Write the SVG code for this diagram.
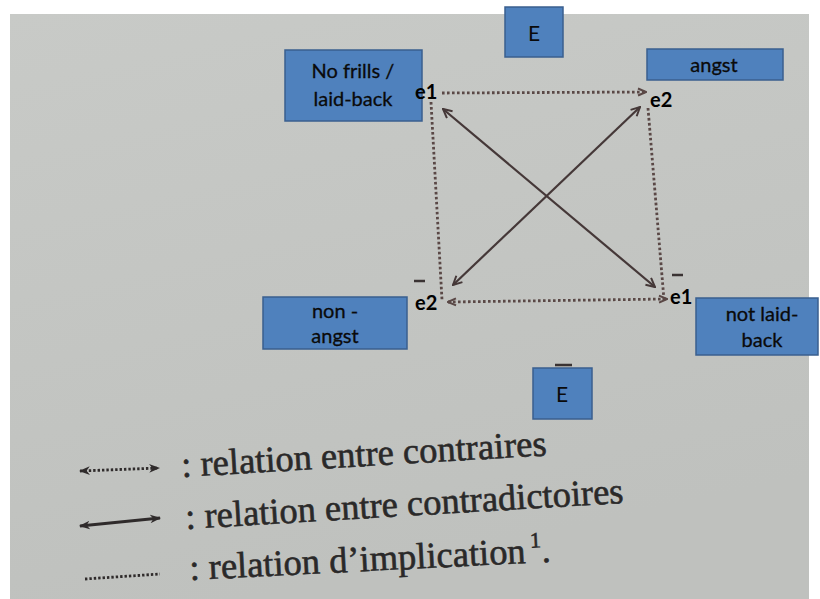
<svg xmlns="http://www.w3.org/2000/svg" width="820" height="599" viewBox="0 0 820 599">
<defs>
<style>
.box{fill:#4f81bd;stroke:#3a5f8f;stroke-width:1.5}
.lbl{font-family:Lato,"Liberation Sans",sans-serif;font-size:20px;fill:#0a0a0a;text-anchor:middle;stroke:#0a0a0a;stroke-width:0.3}
.big{font-size:21px;stroke-width:0}
.e{font-family:Lato,"Liberation Sans",sans-serif;font-size:20px;font-weight:700;fill:#000}
.dot{fill:none;stroke:#5a4846;stroke-width:2.8;stroke-dasharray:2.6 2.4}
.solid{fill:none;stroke:#453838;stroke-width:2.2}
.bar{stroke:#3a3333;stroke-width:2.5}
.book{font-family:"Liberation Serif","Times New Roman",serif;font-size:36.5px;fill:#2a2929;stroke:#2a2929;stroke-width:0.6}
.ldot{fill:none;stroke:#2f2b2b;stroke-width:2.8;stroke-dasharray:2.4 2}
.lsolid{fill:none;stroke:#2f2b2b;stroke-width:2.8}
</style>
<linearGradient id="page" x1="0" y1="0" x2="0.3" y2="1">
<stop offset="0" stop-color="#c8cac7"/>
<stop offset="1" stop-color="#bfc1be"/>
</linearGradient>
<marker id="ah" viewBox="0 0 10 10" refX="9" refY="5" markerWidth="11" markerHeight="11" markerUnits="userSpaceOnUse" orient="auto-start-reverse">
<path d="M1,1 L9,5 L1,9" fill="none" stroke="#453838" stroke-width="1.8"/>
</marker>
<marker id="dh" viewBox="0 0 10 10" refX="9" refY="5" markerWidth="10" markerHeight="10" markerUnits="userSpaceOnUse" orient="auto-start-reverse">
<path d="M1,1.5 L9,5 L1,8.5" fill="none" stroke="#5a4846" stroke-width="2"/>
</marker>
<marker id="lh" viewBox="0 0 10 10" refX="9" refY="5" markerWidth="11" markerHeight="11" markerUnits="userSpaceOnUse" orient="auto-start-reverse">
<path d="M0,1 L10,5 L0,9 L3,5 Z" fill="#2f2b2b"/>
</marker>
</defs>
<rect x="0" y="0" width="820" height="599" fill="#ffffff"/>
<rect x="10" y="14" width="799" height="585" fill="url(#page)"/>

<g id="connectors">
<path class="dot" d="M442,93 L646,92" marker-end="url(#dh)"/>
<path class="dot" d="M448,302 L667,299" marker-start="url(#dh)" marker-end="url(#dh)"/>
<path class="dot" d="M431,102 L442,300"/>
<path class="dot" d="M648,108 L664,300"/>
<path class="solid" d="M443,109 L655,287" marker-start="url(#ah)" marker-end="url(#ah)"/>
<path class="solid" d="M640,107 L453,285" marker-start="url(#ah)" marker-end="url(#ah)"/>
<line class="bar" x1="414" y1="281" x2="425" y2="281"/>
<line class="bar" x1="672" y1="275" x2="683" y2="275"/>
<line class="bar" x1="555" y1="365" x2="572" y2="365" stroke-width="4"/>
</g>

<g id="node-E-top">
<rect class="box" x="505" y="7" width="58" height="50"/>
<text class="lbl big" x="534" y="41">E</text>
</g>
<g id="node-nofrills">
<rect class="box" x="285" y="50" width="137" height="71"/>
<text class="lbl" x="353" y="78">No frills /</text>
<text class="lbl" x="353" y="106">laid-back</text>
</g>
<g id="node-angst">
<rect class="box" x="647" y="49" width="136" height="31"/>
<text class="lbl" x="714" y="72">angst</text>
</g>
<g id="node-nonangst">
<rect class="box" x="263" y="297" width="144" height="52"/>
<text class="lbl" x="335" y="318">non -</text>
<text class="lbl" x="335" y="343">angst</text>
</g>
<g id="node-notlaidback">
<rect class="box" x="696" y="298" width="122" height="57"/>
<text class="lbl" x="762" y="321">not laid-</text>
<text class="lbl" x="762" y="347">back</text>
</g>
<g id="node-E-bottom">
<rect class="box" x="533" y="368" width="59" height="51"/>
<text class="lbl big" x="562" y="402">E</text>
</g>

<g id="corner-labels">
<text class="e" x="415" y="99">e1</text>
<text class="e" x="650" y="107">e2</text>
<text class="e" x="415" y="310">e2</text>
<text class="e" x="670" y="304">e1</text>
</g>

<g id="legend">
<path class="ldot" d="M80,471 L159,468" marker-start="url(#lh)" marker-end="url(#lh)"/>
<path class="lsolid" d="M80,526 L160,518" marker-start="url(#lh)" marker-end="url(#lh)"/>
<path class="ldot" d="M85,579 L160,574"/>
<text class="book" x="182" y="477" transform="rotate(-3.4 182 477)">: relation entre contraires</text>
<text class="book" x="186" y="529" transform="rotate(-3.4 186 529)">: relation entre contradictoires</text>
<text class="book" x="190" y="580" transform="rotate(-2.9 190 580)">: relation d’implication<tspan dx="5" dy="-15" font-size="22">1</tspan><tspan dy="15">.</tspan></text>
</g>
</svg>
